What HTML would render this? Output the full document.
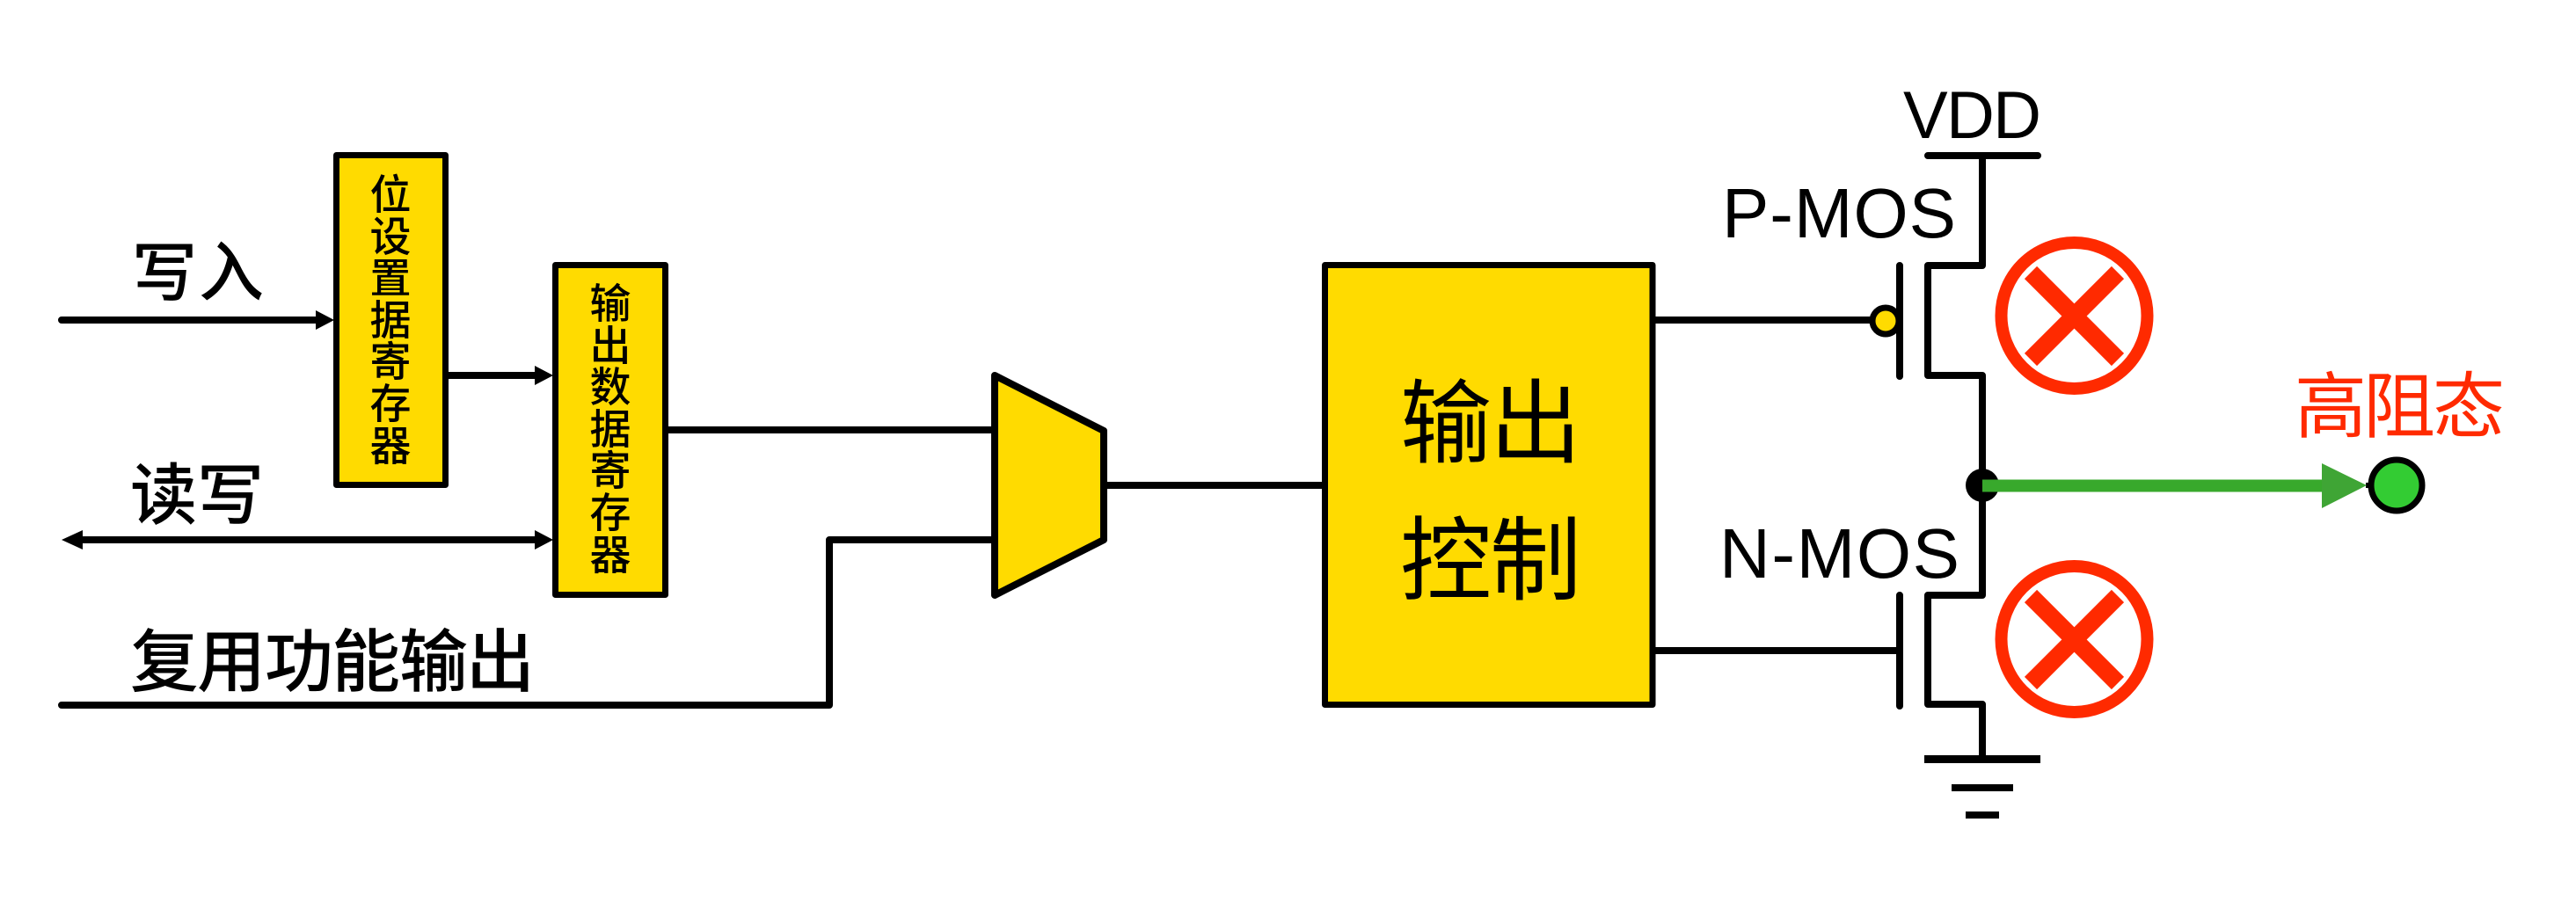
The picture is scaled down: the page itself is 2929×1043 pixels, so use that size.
<!DOCTYPE html>
<html><head><meta charset="utf-8"><style>
html,body{margin:0;padding:0;background:#fff}
svg{display:block}
.c{font-family:"Liberation Sans","Noto Sans CJK SC",sans-serif;text-anchor:middle}
.l{font-family:"Liberation Sans",sans-serif;fill:#000}
</style></head><body>
<svg width="2929" height="1043" viewBox="0 0 2929 1043" xmlns="http://www.w3.org/2000/svg">
<rect width="2929" height="1043" fill="#fff"/>
<g fill="none" stroke="#000" stroke-width="8" stroke-linejoin="round" stroke-linecap="round">
<path d="M70 364H362M510 427H610M90 614H610M70 802H943V614H1130M760 489H1130M1256 552H1505M1882 364H2130M1882 740H2160"/>
<path stroke-linecap="butt" d="M2254 177V302H2192V427H2254V552M2254 552V677H2192V801H2254V863"/>
<path d="M2192 177H2317M2160 302V428M2160 677V803"/>
</g>
<g fill="#000">
<path d="M380 364L359 353V375ZM629 427L608 416V438ZM629 614L608 603V625ZM70 614L94 603V625Z"/>
<rect x="2188" y="859" width="132" height="9"/>
<rect x="2219" y="892" width="70" height="8"/>
<rect x="2235" y="923" width="38" height="8"/>
<rect x="2690" y="549" width="8" height="6"/>
</g>
<g fill="#ffdb00" stroke="#000" stroke-width="7" stroke-linejoin="round">
<rect x="382.500" y="176.500" width="124" height="375"/>
<rect x="631.500" y="301.500" width="125" height="375"/>
<rect x="1506.500" y="301.500" width="372.500" height="500"/>
<path stroke-width="8" d="M1131 427L1255 490V614L1131 677Z"/>
<circle cx="2144" cy="365" r="15"/>
</g>
<g fill="none" stroke="#ff2a00">
<circle cx="2358.500" cy="359" r="83" stroke-width="14"/>
<circle cx="2358.500" cy="727" r="83" stroke-width="14"/>
<path stroke-width="20" d="M2309 310L2408 409M2408 310L2309 409M2309 678L2408 777M2408 678L2309 777"/>
</g>
<circle cx="2254" cy="552" r="19" fill="#000"/>
<rect x="2254" y="545.500" width="388" height="14" fill="#38a92c"/>
<path d="M2640 527L2691 552L2640 578Z" fill="#3fa535"/>
<circle cx="2725" cy="552" r="29" fill="#33cc33" stroke="#000" stroke-width="7"/>

<g class="c" fill="#000" font-weight="500" font-size="74">
<text x="187 263" y="336">写入</text>
<text x="186 262" y="590" font-size="76">读写</text>
<text x="187 263 340 416 493 569" y="780" font-size="78">复用功能输出</text>
</g>
<g class="c" fill="#000" font-weight="500" font-size="47">
<text x="444 444 444 444 444 444 444" y="238 286 333 381 428 476 524">位设置据寄存器</text>
<text x="694 694 694 694 694 694 694" y="362 410 457 505 552 600 648">输出数据寄存器</text>
</g>
<g class="c" fill="#000" font-size="104">
<text x="1644 1746" y="518">输出</text>
<text x="1644 1746" y="674">控制</text>
</g>
<text class="c" x="2650 2728 2807" y="491" font-size="82" fill="#ff2a00">高阻态</text>
<text class="l" x="2164" y="157" font-size="76" textLength="157">VDD</text>
<text class="l" x="1958" y="270" font-size="80" textLength="266">P-MOS</text>
<text class="l" x="1955" y="657" font-size="80" textLength="273">N-MOS</text>
</svg>
</body></html>
